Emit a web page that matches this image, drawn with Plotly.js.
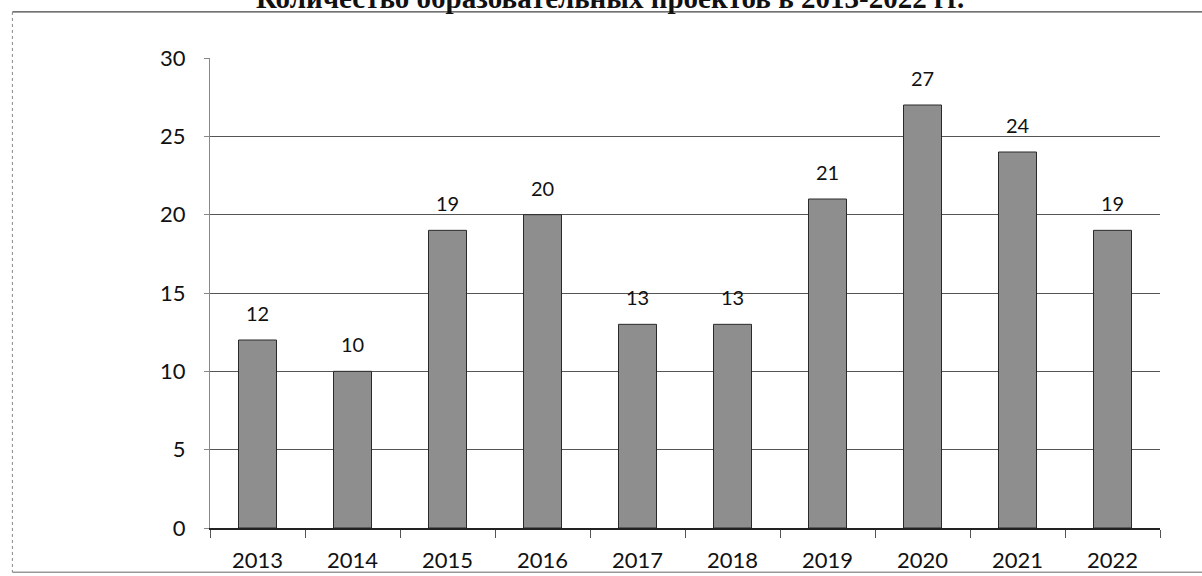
<!DOCTYPE html>
<html>
<head>
<meta charset="utf-8">
<script src="https://cdn.plot.ly/plotly-3.0.1.min.js"></script>
<style>html,body{margin:0;padding:0;background:#fff;}#chart{width:1202px;height:576px;}</style>
</head>
<body>
<div id="chart"></div>
<script>
const years = ['2013','2014','2015','2016','2017','2018','2019','2020','2021','2022'];
const projects = [12, 10, 19, 20, 13, 13, 21, 27, 24, 19];
const yTicks = [0, 5, 10, 15, 20, 25, 30];
const chartTitle = 'Количество образовательных проектов в 2013-2022 гг.';

const trace = {
  type: 'bar',
  x: years,
  y: projects,
  width: 0.4,
  marker: {color: '#8e8e8e', line: {color: '#2a2a2a', width: 1}},
  hoverinfo: 'x+y'
};

const labelAnn = years.map((yr, i) => ({
  x: i, y: projects[i], xref: 'x', yref: 'y',
  text: String(projects[i]), showarrow: false,
  yanchor: 'bottom', yshift: 13,
  font: {family: 'Lato, "Open Sans", sans-serif', size: 20, color: '#111'}
}));

const layout = {
  width: 1202, height: 576,
  margin: {l: 210, r: 42, t: 58, b: 48},
  paper_bgcolor: '#fff', plot_bgcolor: '#fff',
  showlegend: false,
  font: {family: 'Lato, "Open Sans", sans-serif', size: 22, color: '#111'},
  xaxis: {
    type: 'category',
    range: [-0.5, years.length - 0.5], autorange: false,
    showline: true, linecolor: '#222', linewidth: 1.5,
    ticks: 'outside', tickson: 'boundaries', ticklen: 8, tickcolor: '#555',
    showgrid: false, zeroline: false,
    ticklabelstandoff: 12,
    tickfont: {size: 22}
  },
  yaxis: {
    range: [0, 30], autorange: false, tickvals: yTicks,
    showline: true, linecolor: '#888', linewidth: 1,
    ticks: 'outside', ticklen: 5, tickcolor: '#888',
    showgrid: true, gridcolor: '#555', gridwidth: 1,
    zeroline: false,
    ticklabelstandoff: 14,
    tickfont: {size: 22}
  },
  annotations: labelAnn.concat([{
    xref: 'paper', yref: 'paper', x: 0.421, y: 1.089,
    xanchor: 'center', yanchor: 'bottom', showarrow: false,
    text: '<b>' + chartTitle + '</b>',
    font: {family: '"Liberation Serif", "Times New Roman", serif', size: 29, color: '#111'}
  }]),
  shapes: [
    {type: 'line', xref: 'paper', yref: 'paper', x0: -0.208, x1: 1.05, y0: 1.098, y1: 1.098, line: {color: '#444', width: 1.2}},
    {type: 'line', xref: 'paper', yref: 'paper', x0: -0.208, x1: -0.208, y0: 1.098, y1: -0.094, line: {color: '#888', width: 1, dash: 'dot'}},
    {type: 'line', xref: 'paper', yref: 'paper', x0: -0.208, x1: 1.05, y0: -0.094, y1: -0.094, line: {color: '#666', width: 1}}
  ]
};

Plotly.newPlot('chart', [trace], layout, {staticPlot: true, displayModeBar: false});
</script>
</body>
</html>
